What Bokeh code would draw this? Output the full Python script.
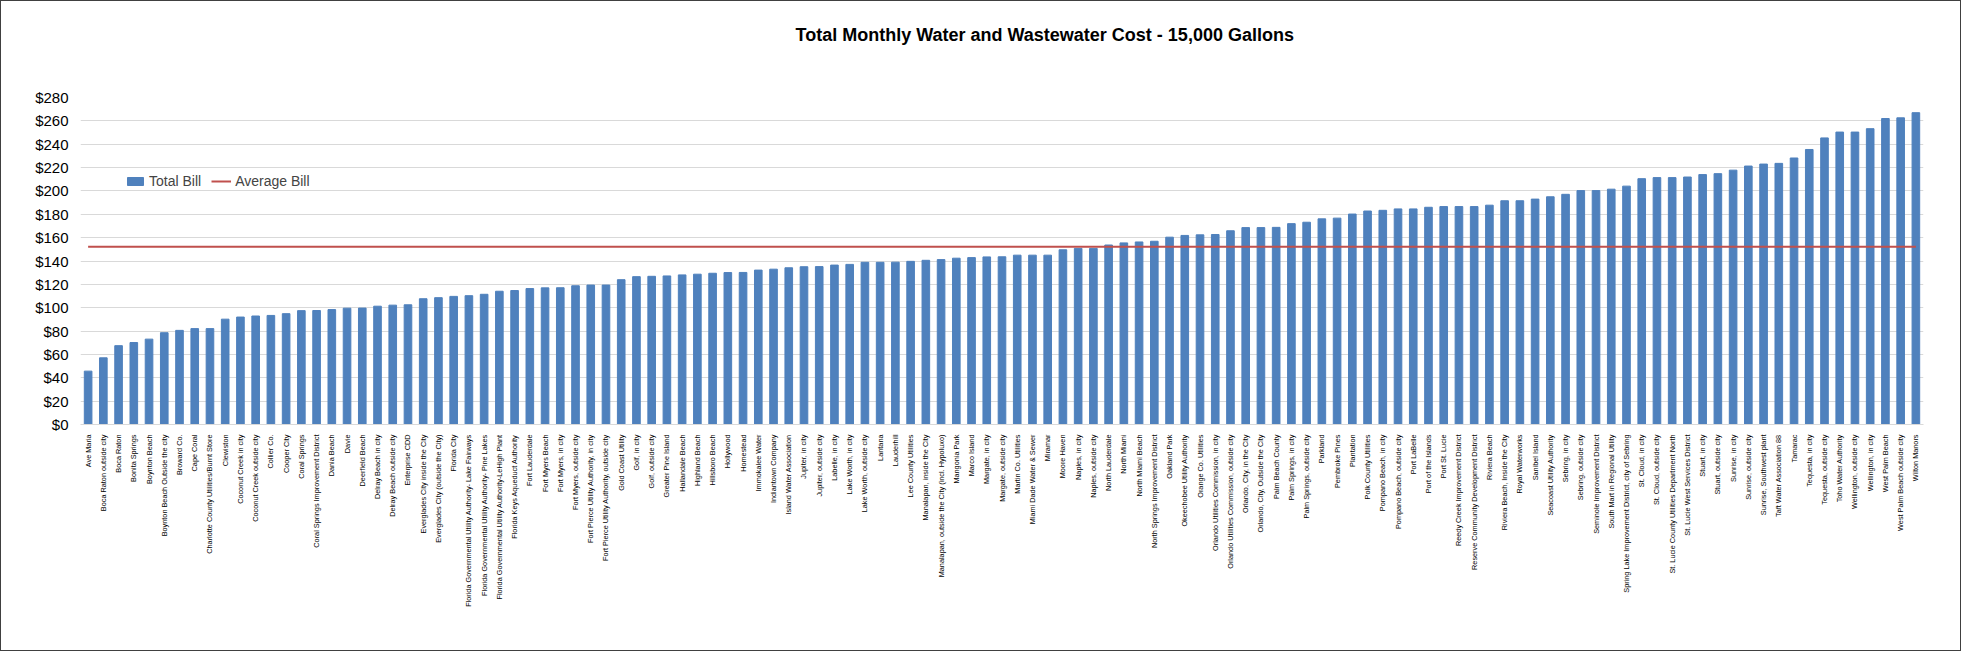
from bokeh.plotting import figure
from bokeh.models import ColumnDataSource, Legend, LegendItem, Title, NumeralTickFormatter, FixedTicker, Range1d
from bokeh.embed import file_html
from bokeh.resources import INLINE
from math import pi

categories = [
    "Ave Maria", "Boca Raton outside city", "Boca Raton", "Bonita Springs", "Boynton Beach",
    "Boynton Beach Outside the city", "Broward Co.", "Cape Coral", "Charlotte County Utilities/Burnt Store",
    "Clewiston", "Coconut Creek in city", "Coconut Creek outside city", "Collier Co.", "Cooper City",
    "Coral Springs", "Coral Springs Improvement District", "Dania Beach", "Davie", "Deerfield Beach",
    "Delray Beach in city", "Delray Beach outside city", "Enterprise CDD", "Everglades City inside the City",
    "Everglades City (outside the City)", "Florida City",
    "Florida Governmental Utility Authority- Lake Fairways",
    "Florida Governmental Utility Authority- Pine Lakes",
    "Florida Governmental Utility Authority-LeHigh Plant", "Florida Keys Aqueduct Authority",
    "Fort Lauderdale", "Fort Myers Beach", "Fort Myers, in city", "Fort Myers, outside city",
    "Fort Pierce Utility Authority, in city", "Fort Pierce Utility Authority, outside city",
    "Gold Coast Utility", "Golf, in city", "Golf, outside city", "Greater Pine Island", "Hallandale Beach",
    "Highland Beach", "Hillsboro Beach", "Hollywood", "Homestead", "Immokalee Water", "Indiantown Company",
    "Island Water Association", "Jupiter, in city", "Jupiter, outside city", "Labelle, in city",
    "Lake Worth, in city", "Lake Worth, outside city", "Lantana", "Lauderhill", "Lee County Utilities",
    "Manalapan, inside the City", "Manalapan, outside the City (incl. Hypoluxo)", "Mangonia Park",
    "Marco Island", "Margate, in city", "Margate, outside city", "Martin Co. Utilities",
    "Miami Dade Water & Sewer", "Miramar", "Moore Haven", "Naples, in city", "Naples, outside city",
    "North Lauderdale", "North Miami", "North Miami Beach", "North Springs Improvement District",
    "Oakland Park", "Okeechobee Utility Authority", "Orange Co. Utilities",
    "Orlando Utilities Commission, in city", "Orlando Utilities Commission, outside city",
    "Orlando, City, in the City", "Orlando, City, Outside the City", "Palm Beach County",
    "Palm Springs, in city", "Palm Springs, outside city", "Parkland", "Pembroke Pines", "Plantation",
    "Polk County Utilities", "Pompano Beach, in city", "Pompano Beach, outside city", "Port LaBelle",
    "Port of the Islands", "Port St. Lucie", "Reedy Creek Improvement District",
    "Reserve Community Development District", "Riviera Beach", "Riviera Beach, Inside the City",
    "Royal Waterworks", "Sanibel Island", "Seacoast Utility Authority", "Sebring, in city",
    "Sebring, outside city", "Seminole Improvement District", "South Mart in Regional Utility",
    "Spring Lake Improvement District, city of Sebring", "St. Cloud, in city", "St. Cloud, outside city",
    "St. Lucie County Utilities Department North", "St. Lucie West Services District", "Stuart, in city",
    "Stuart, outside city", "Sunrise, in city", "Sunrise, outside city", "Sunrise, Southwest plant",
    "Taft Water Association 88", "Tamarac", "Tequesta, in city", "Tequesta, outside city",
    "Toho Water Authority", "Wellington, outside city", "Wellington, in city", "West Palm Beach",
    "West Palm Beach outside city", "Wilton Manors",
]

total_bill = [
    45.7, 57.1, 67.5, 70.2, 73.1, 78.6, 80.6, 82.1, 82.1, 90.2,
    92.0, 92.9, 93.4, 94.9, 97.5, 97.6, 98.4, 99.6, 99.7, 101.3,
    102.2, 102.5, 107.7, 108.6, 109.7, 110.3, 111.5, 114.1, 114.7, 116.4,
    117.0, 117.1, 118.8, 119.4, 119.4, 124.0, 126.6, 126.9, 127.2, 128.1,
    128.7, 129.5, 130.1, 130.2, 132.2, 133.0, 134.2, 135.1, 135.2, 136.5,
    137.1, 138.9, 138.9, 139.0, 139.7, 140.6, 141.2, 142.4, 142.9, 143.5,
    143.6, 145.0, 145.0, 145.0, 149.6, 150.8, 150.8, 153.7, 155.5, 156.3,
    156.9, 160.4, 161.9, 162.4, 162.7, 165.9, 168.6, 168.6, 168.8, 172.0,
    173.2, 176.1, 176.7, 180.2, 182.8, 183.4, 184.6, 184.6, 186.0, 186.6,
    186.6, 186.6, 187.8, 191.6, 191.6, 193.0, 195.0, 197.1, 200.3, 200.3,
    201.5, 204.1, 210.5, 211.4, 211.4, 211.9, 214.0, 214.8, 217.8, 221.3,
    223.0, 223.6, 228.2, 235.5, 245.4, 250.4, 250.4, 253.3, 262.0, 262.6,
    267.0,
]

average_bill = 152.3
y_ticks = [0, 20, 40, 60, 80, 100, 120, 140, 160, 180, 200, 220, 240, 260, 280]
title_text = "Total Monthly Water and Wastewater Cost - 15,000 Gallons"

src = ColumnDataSource(dict(cat=categories, bill=total_bill, avg=[average_bill] * len(categories)))

p = figure(
    x_range=categories, y_range=Range1d(0, 280),
    width=1961, height=651, output_backend="svg", toolbar_location=None,
    min_border_left=79, min_border_right=39, min_border_top=96, min_border_bottom=228,
)
p.outline_line_color = None
p.background_fill_color = "white"
p.border_fill_color = "white"
p.styles = {"border": "1px solid #404040"}

bars = p.vbar(x="cat", top="bill", width=0.5, source=src, fill_color="#4F81BD", line_color="#4F81BD")
avg_line = p.line(x="cat", y="avg", source=src, line_color="#C0504D", line_width=2)

p.xgrid.grid_line_color = None
p.ygrid.grid_line_color = "#D9D9D9"
p.ygrid.grid_line_width = 1

p.yaxis.ticker = FixedTicker(ticks=y_ticks)
p.yaxis.formatter = NumeralTickFormatter(format="$0")
p.yaxis.axis_line_color = None
p.yaxis.major_tick_line_color = None
p.yaxis.minor_tick_line_color = None
p.yaxis.major_label_text_font = "Liberation Sans"
p.yaxis.major_label_text_font_size = "15px"
p.yaxis.major_label_text_color = "#000000"
p.yaxis.major_label_standoff = 6

p.xaxis.axis_line_color = "#D9D9D9"
p.xaxis.major_tick_line_color = None
p.xaxis.minor_tick_line_color = None
p.xaxis.major_label_orientation = pi / 2
p.xaxis.major_label_text_font = "Liberation Sans"
p.xaxis.major_label_text_font_size = "7.3px"
p.xaxis.major_label_text_color = "#000000"
p.xaxis.major_label_standoff = 4

legend = Legend(
    items=[LegendItem(label="Total Bill", renderers=[bars]),
           LegendItem(label="Average Bill", renderers=[avg_line])],
    orientation="horizontal", location=(45, 235),
    border_line_color=None, background_fill_alpha=0,
    label_text_font="Liberation Sans", label_text_font_size="14px",
    glyph_width=20, glyph_height=10, spacing=10, label_standoff=4,
)
p.add_layout(legend, "center")

# spacer between frame and title (closest to the frame)
spacer = Title(text=" ", text_font_size="1px", standoff=50)
p.add_layout(spacer, "above")

title = Title(
    text=title_text, align="left", offset=715, standoff=0, vertical_align="bottom",
    text_font="Liberation Sans", text_font_size="18px", text_font_style="bold",
    text_color="#000000",
)
p.add_layout(title, "above")

open("out.html", "w").write(file_html(p, INLINE))
